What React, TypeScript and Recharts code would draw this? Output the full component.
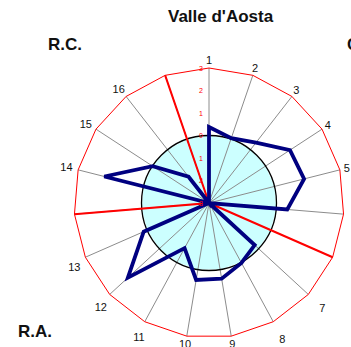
import React from 'react';
import { RadarChart, Radar, PolarGrid, PolarAngleAxis, PolarRadiusAxis } from 'recharts';

// axis order clockwise from the top; blank entries are the sector dividers
const axisLabels = ['1', '2', '3', '4', '5', '6', '', '7', '8', '9', '10', '11', '12', '13', '', '14', '15', '16', ''];
const valleDAosta = [0.38, 0.05, 0.4, 1.3, 1.36, 0.49, -3, -0.24, 0.03, 0.41, 0.47, -0.72, 1.9, 0.17, -3, 1.8, -0.01, -1.52, -3];
const dividers = [-3, -3, -3, -3, -3, -3, 3, -3, -3, -3, -3, -3, -3, -3, 3, -3, -3, -3, 3];
const zeroLine = [0, 0, 0, 0, 0, 0, 0, 0, 0, 0, 0, 0, 0, 0, 0, 0, 0, 0, 0];
const radiusTicks = [-3, -2, -1, 0, 1, 2, 3];

const W = 400;
const H = 347;
const CX = 209;
const CY = 203;
const R = 135;
const FONT = '"Liberation Sans", Arial, sans-serif';

const data = axisLabels.map((label, i) => ({
  idx: i,
  label,
  value: valleDAosta[i],
  divider: dividers[i],
  zero: zeroLine[i],
}));

const AngleTick = ({ x, y, payload }: any) => {
  const label = axisLabels[payload.value];
  if (!label) return null;
  const dx = x - CX;
  const dy = y - CY;
  const len = Math.sqrt(dx * dx + dy * dy) || 1;
  const ux = dx / len;
  const uy = dy / len;
  const w = label.length * 6.1;
  // excel pushes the lower labels a bit further out
  let extra = 0;
  let shiftY = 0;
  if (ux > 0.3 && uy > -0.1) extra += 12;
  if (ux < -0.3) extra += 2;
  if (ux < -0.3 && uy > 0.2) shiftY = 6;
  const tx = CX + ux * (R + 4 + extra) + ux * (w / 2);
  const ty = CY + uy * (R + 4 + extra) + uy * 4 + shiftY;
  return (
    <text x={tx} y={ty} textAnchor="middle" dominantBaseline="central" fontSize={11} fill="#111" fontFamily={FONT}>
      {label}
    </text>
  );
};

const RadiusTick = ({ x, y, payload }: any) => (
  <text x={x - 8} y={y} textAnchor="middle" dominantBaseline="central" fontSize={7} fill="#ff0000" fontFamily={FONT}>
    {Math.abs(payload.value)}
  </text>
);

export default function App() {
  return (
    <div style={{ position: 'fixed', left: 0, top: 0, width: 351, height: 347, overflow: 'hidden', background: '#fff' }}>
      <div style={{ position: 'absolute', left: 0, top: 0 }}>
        <RadarChart width={W} height={H} data={data} cx={CX} cy={CY} outerRadius={R} margin={{ top: 0, right: 0, bottom: 0, left: 0 }}>
          <PolarAngleAxis dataKey="idx" tick={false} axisLine={false} tickLine={false} />
          <PolarRadiusAxis angle={90} domain={[-3, 3]} tick={false} axisLine={false} />
          <Radar dataKey="zero" stroke="none" fill="#ccffff" fillOpacity={1} dot={false} isAnimationActive={false} />
        </RadarChart>
      </div>
      <div style={{ position: 'absolute', left: 0, top: 0 }}>
        <RadarChart width={W} height={H} data={data} cx={CX} cy={CY} outerRadius={R} margin={{ top: 0, right: 0, bottom: 0, left: 0 }}>
          <PolarGrid gridType="polygon" polarRadius={[]} stroke="#8c8c8c" strokeWidth={1} />
          <PolarGrid gridType="polygon" radialLines={false} polarRadius={[R]} stroke="#ff0000" strokeWidth={1} />
          <PolarGrid gridType="circle" radialLines={false} polarRadius={[R / 2]} stroke="#000" strokeWidth={1.3} />
          <PolarAngleAxis dataKey="idx" tick={<AngleTick />} axisLine={false} tickLine={false} />
          <PolarRadiusAxis angle={90} domain={[-3, 3]} ticks={radiusTicks as any} tickCount={7} tick={<RadiusTick />} axisLine={false} tickLine={false} />
          <Radar dataKey="divider" stroke="#ff0000" strokeWidth={2} fill="none" fillOpacity={0} dot={false} isAnimationActive={false} />
          <Radar dataKey="value" stroke="#000080" strokeWidth={3.8} fill="none" fillOpacity={0} dot={false} isAnimationActive={false} />
        </RadarChart>
      </div>
      <svg width={351} height={347} style={{ position: 'absolute', left: 0, top: 0 }}>
        <text x={168} y={22} fontSize={17} fontWeight="bold" fontFamily={FONT} fill="#111">Valle d'Aosta</text>
        <text x={48} y={50} fontSize={17} fontWeight="bold" fontFamily={FONT} fill="#111">R.C.</text>
        <text x={347} y={50} fontSize={17} fontWeight="bold" fontFamily={FONT} fill="#111">C.</text>
        <text x={18} y={337} fontSize={17} fontWeight="bold" fontFamily={FONT} fill="#111">R.A.</text>
      </svg>
    </div>
  );
}
